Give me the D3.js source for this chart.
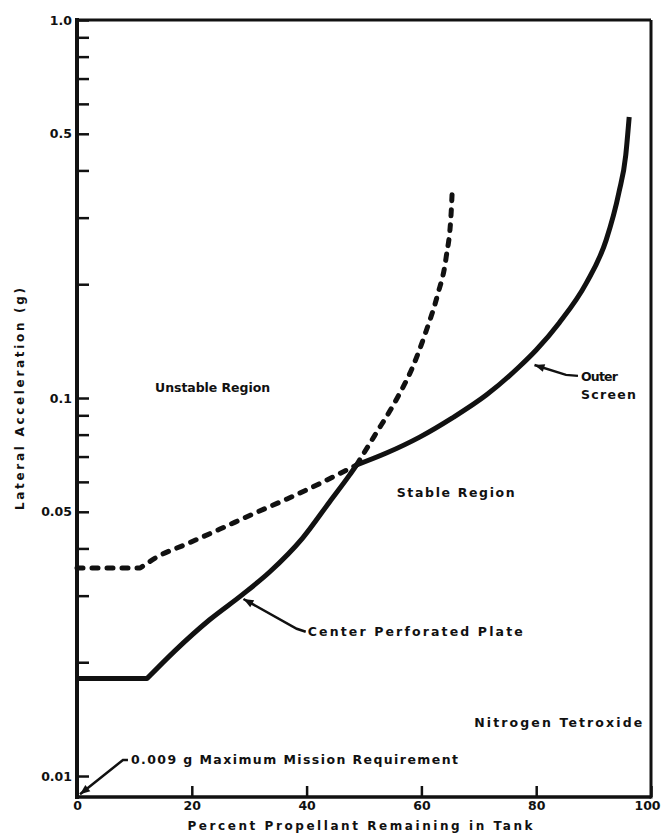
<!DOCTYPE html>
<meta charset="utf-8">
<style>
body {
  margin: 0;
  background: #fff;
}

svg text {
  font-family: "DejaVu Sans", sans-serif;
  font-weight: bold;
  fill: #111;
}

.curve {
  fill: none;
  stroke: #111;
  stroke-width: 5px;
  stroke-linejoin: round;
}

.curve--dash {
  stroke-dasharray: 6, 9;
  stroke-linecap: round;
}

.axis .domain {
  display: none;
}

.axis .tick line {
  stroke: #111;
  stroke-width: 2.5px;
}

.axis .tick text {
  font-size: 12.5px;
}

.frame line {
  stroke: #111;
}

.note {
  font-size: 12.5px;
}

.leader {
  fill: none;
  stroke: #111;
  stroke-width: 2.5px;
}

.head {
  fill: #111;
}
</style>
<body>
<script src="https://d3js.org/d3.v7.min.js"></script>
<script>

// percent propellant remaining vs lateral acceleration (g)
var platePct = [0, 12.2, 17, 23.1, 28.7, 33.6, 39.3, 44, 47.5, 48.7, 51.8, 55.6, 58.5, 60.8, 62.8, 64.3, 65.2, 65.4];
var plateG   = [0.0181, 0.0181, 0.0214, 0.0259, 0.0301, 0.0347, 0.0426, 0.0531, 0.0626, 0.0665, 0.0793, 0.0988, 0.121, 0.150, 0.187, 0.235, 0.312, 0.362];

var screenPct = [0, 11, 14, 19.1, 24.9, 30.6, 36.5, 42.3, 48.7, 53.9, 59.7, 65.4, 71.3, 77, 80, 84, 88.7, 92.2, 94.4, 95.6, 96.2];
var screenG   = [0.0355, 0.0355, 0.0380, 0.0411, 0.0450, 0.0493, 0.0540, 0.0594, 0.0665, 0.0715, 0.0788, 0.0886, 0.1018, 0.1208, 0.134, 0.158, 0.201, 0.262, 0.349, 0.439, 0.554];

// where the two curves cross; the lower one is drawn solid
var crossPct = 48.7;

var xTicks = [0, 20, 40, 60, 80, 100];
var yMajor = [1.0, 0.5, 0.1, 0.05, 0.01];
var yMinor = [0.9, 0.8, 0.7, 0.6, 0.4, 0.3, 0.2, 0.09, 0.08, 0.07, 0.06, 0.04, 0.03, 0.02];

var width = 662,
    height = 836,
    margin = {top: 20, right: 11, bottom: 39, left: 77};

var x = d3.scaleLinear()
    .domain([0, 100])
    .range([margin.left, width - margin.right]);

var y = d3.scaleLog()
    .domain([0.0088, 1])
    .range([height - margin.bottom, margin.top]);

var svg = d3.select("body").append("svg")
    .attr("width", width)
    .attr("height", height);

var straight = d3.line()
    .x(function(d) { return x(d[0]); })
    .y(function(d) { return y(d[1]); });

var smooth = d3.line()
    .x(function(d) { return x(d[0]); })
    .y(function(d) { return y(d[1]); })
    .curve(d3.curveMonotoneX);

// flat start, then a sharp corner into the smooth rise
function withFlat(pts) {
  return straight(pts.slice(0, 2)) + smooth(pts.slice(1)).replace(/^M[^A-Za-z]+/, "");
}

function pairs(pcts, gs) {
  return pcts.map(function(p, i) { return [p, gs[i]]; });
}

var plate = pairs(platePct, plateG),
    screen = pairs(screenPct, screenG);

var below = function(d) { return d[0] <= crossPct; },
    above = function(d) { return d[0] >= crossPct; };

svg.append("path").attr("class", "curve").attr("d", withFlat(plate.filter(below)));
svg.append("path").attr("class", "curve curve--dash").attr("d", smooth(plate.filter(above)));
svg.append("path").attr("class", "curve curve--dash").attr("d", withFlat(screen.filter(below)));
svg.append("path").attr("class", "curve").attr("d", smooth(screen.filter(above)));

// axes (ticks point into the plot)
svg.append("g")
    .attr("class", "axis")
    .attr("transform", "translate(" + x(0) + ",0)")
    .call(d3.axisLeft(y)
        .tickValues(yMajor)
        .tickSize(-12)
        .tickPadding(5)
        .tickFormat(function(d) { return d === 1 ? "1.0" : d3.format("~g")(d); }));

svg.append("g")
    .attr("class", "axis")
    .attr("transform", "translate(" + x(0) + ",0)")
    .call(d3.axisLeft(y)
        .tickValues(yMinor)
        .tickSize(-12)
        .tickFormat(""));

svg.append("g")
    .attr("class", "axis")
    .attr("transform", "translate(0," + y.range()[0] + ")")
    .call(d3.axisBottom(x)
        .tickValues(xTicks)
        .tickSize(-11)
        .tickPadding(4))
  .selectAll(".tick text")
    .attr("dx", function(d) { return d === 100 ? -4 : 0; });

var x0 = x.range()[0], x1 = x.range()[1],
    yb = y.range()[0], yt = y.range()[1];

var frame = svg.append("g").attr("class", "frame");
frame.append("line").attr("x1", x0).attr("x2", x0).attr("y1", yt - 2).attr("y2", yb + 2).attr("stroke-width", 4);
frame.append("line").attr("x1", x0).attr("x2", x1).attr("y1", yb).attr("y2", yb).attr("stroke-width", 3.5);
frame.append("line").attr("x1", x0).attr("x2", x1).attr("y1", yt).attr("y2", yt).attr("stroke-width", 3);
frame.append("line").attr("x1", x1).attr("x2", x1).attr("y1", yt).attr("y2", yb + 1.5).attr("stroke-width", 3);

// axis titles
svg.append("text")
    .attr("transform", "translate(24,399) rotate(-90)")
    .attr("text-anchor", "middle")
    .attr("font-size", "12px")
    .attr("textLength", 222)
    .attr("lengthAdjust", "spacing")
    .text("Lateral Acceleration (g)");

svg.append("text")
    .attr("x", (x0 + x1) / 2 - 4)
    .attr("y", 830)
    .attr("text-anchor", "middle")
    .attr("font-size", "12px")
    .attr("textLength", 345)
    .attr("lengthAdjust", "spacing")
    .text("Percent Propellant Remaining in Tank");

// region labels and notes
function note(text, px, g, len) {
  return svg.append("text")
      .attr("class", "note")
      .attr("x", x(px))
      .attr("y", y(g))
      .attr("textLength", len)
      .attr("lengthAdjust", "spacing")
      .text(text);
}

function arrowHead(tip, from) {
  var dx = tip[0] - from[0], dy = tip[1] - from[1],
      L = Math.hypot(dx, dy), ux = dx / L, uy = dy / L,
      bx = tip[0] - ux * 10, by = tip[1] - uy * 10;
  svg.append("path")
      .attr("class", "head")
      .attr("d", "M" + tip + "L" + (bx - uy * 4) + "," + (by + ux * 4) + "L" + (bx + uy * 4) + "," + (by - ux * 4) + "Z");
}

function leader(pts) {
  svg.append("path").attr("class", "leader").attr("d", d3.line()(pts));
  arrowHead(pts[0], pts[1]);
}

note("Unstable Region", 13.6, 0.1037, 115);
note("Stable Region", 55.7, 0.0547, 118);
note("Nitrogen Tetroxide", 69.2, 0.01348, 168);

note("Center Perforated Plate", 40.2, 0.0235, 215);
var tx = x(40.2), ty = y(0.0235);
leader([[x(29), y(0.0294)], [tx - 11, ty - 7], [tx - 2, ty - 4]]);

note("Outer", 87.8, 0.111, 37);
note("Screen", 87.8, 0.0994, 55);
tx = x(87.8); ty = y(0.111);
leader([[x(79.7), y(0.1223)], [tx - 15, ty - 6], [tx - 3, ty - 5]]);

note("0.009 g Maximum Mission Requirement", 9.4, 0.01076, 327);
tx = x(9.4); ty = y(0.01076);
leader([[x(0) + 3, y(0.009) + 1], [tx - 8, ty - 4], [tx - 3, ty - 4]]);

</script>
